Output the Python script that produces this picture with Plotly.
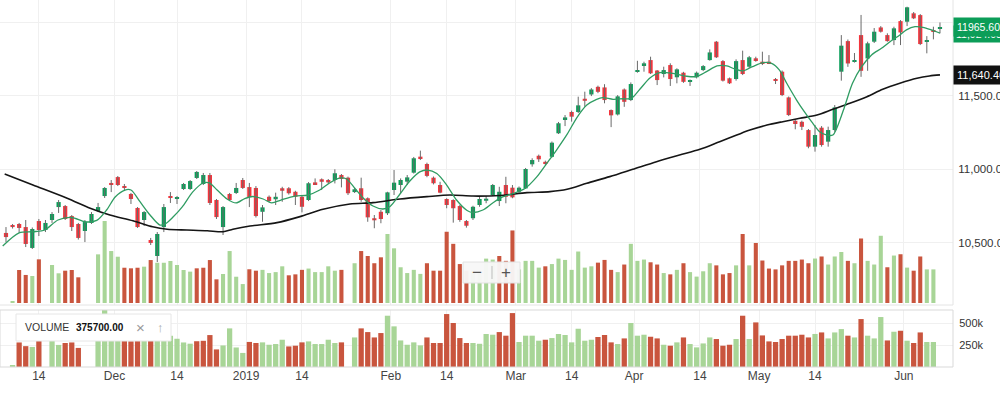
import plotly.graph_objects as go

# ---------------- data ----------------
opens = [10565, 10619, 10626, 10605, 10463, 10646, 10585, 10653, 10741, 10748,
         10680, 10626, 10578, 10633, 10714, 10816, 10905, 10945, 10884, 10830,
         10735, 10653, 10517, 10408, 10605, 10816, 10796, 10864, 10864, 10939,
         10898, 10959, 10789, 10605, 10830, 10837, 10925, 10877, 10871, 10709,
         10811, 10794, 10869, 10869, 10845, 10811, 10789, 10909, 10930, 10925,
         10925, 10959, 10941, 10843, 10869, 10801, 10665, 10709, 10699, 10857,
         10891, 10914, 10975, 11084, 11034, 10941, 10891, 10796, 10789, 10748,
         10646, 10665, 10755, 10784, 10823, 10782, 10891, 10873, 10845, 10868,
         11032, 11090, 11049, 11083, 11243, 11340, 11388, 11388, 11478, 11507,
         11559, 11555, 11401, 11371, 11541, 11469, 11662, 11707, 11741, 11670,
         11646, 11707, 11624, 11655, 11593, 11624, 11673, 11741, 11866, 11734,
         11617, 11612, 11741, 11696, 11753, 11730, 11730, 11612, 11662, 11487,
         11328, 11321, 11265, 11152, 11281, 11186, 11265, 11662, 11870, 11730,
         11911, 11752, 11866, 11963, 11911, 11877, 12006, 12002, 12059, 12047,
         11866, 11945, 11955]
closes = [10537, 10605, 10599, 10490, 10592, 10585, 10633, 10694, 10775, 10660,
          10605, 10531, 10639, 10694, 10741, 10871, 10891, 10891, 10871, 10796,
          10605, 10707, 10497, 10558, 10741, 10803, 10809, 10898, 10918, 10980,
          10959, 10769, 10673, 10741, 10789, 10871, 10871, 10809, 10680, 10739,
          10782, 10811, 10852, 10835, 10811, 10743, 10903, 10896, 10913, 10909,
          10971, 10932, 10835, 10862, 10789, 10671, 10651, 10660, 10841, 10907,
          10925, 10943, 11073, 11071, 10953, 10903, 10839, 10755, 10733, 10653,
          10614, 10743, 10796, 10798, 10891, 10845, 10811, 10807, 10873, 11000,
          11061, 11066, 11034, 11179, 11311, 11351, 11356, 11433, 11464, 11541,
          11525, 11469, 11365, 11494, 11457, 11578, 11673, 11719, 11651, 11605,
          11673, 11612, 11678, 11593, 11605, 11655, 11700, 11793, 11760, 11601,
          11583, 11734, 11646, 11760, 11741, 11719, 11719, 11601, 11503, 11367,
          11306, 11287, 11152, 11231, 11163, 11265, 11419, 11839, 11718, 11741,
          11668, 11855, 11934, 11934, 11870, 11957, 11929, 12100, 12025, 11850,
          11877, 11934, 11965.6]
highs = [10605, 10626, 10633, 10653, 10602, 10660, 10653, 10707, 10789, 10755,
         10687, 10633, 10653, 10707, 10769, 10877, 10925, 10952, 10898, 10837,
         10741, 10714, 10531, 10571, 10762, 10843, 10816, 10905, 10925, 10986,
         10973, 10973, 10796, 10748, 10837, 10905, 10939, 10905, 10884, 10755,
         10820, 10839, 10879, 10877, 10852, 10820, 10911, 10936, 10936, 10932,
         10998, 10966, 10948, 10871, 10941, 10807, 10687, 10721, 10845, 10993,
         10936, 10959, 11082, 11125, 11043, 10949, 10913, 10801, 10794, 10755,
         10653, 10750, 10811, 10816, 10898, 10879, 10947, 10891, 10881, 11007,
         11073, 11098, 11057, 11187, 11320, 11367, 11397, 11492, 11526, 11550,
         11567, 11577, 11405, 11503, 11548, 11589, 11736, 11730, 11764, 11673,
         11696, 11719, 11685, 11661, 11609, 11663, 11707, 11814, 11871, 11741,
         11622, 11746, 11805, 11769, 11764, 11798, 11775, 11619, 11670, 11493,
         11333, 11329, 11272, 11299, 11292, 11288, 11435, 11911, 11881, 11789,
         12048, 11866, 11959, 11972, 11923, 11968, 12013, 12104, 12068, 12054,
         11904, 11968, 11997]
lows = [10503, 10595, 10565, 10469, 10456, 10544, 10571, 10633, 10701, 10653,
        10578, 10520, 10503, 10626, 10707, 10803, 10843, 10884, 10857, 10762,
        10599, 10612, 10483, 10367, 10571, 10769, 10762, 10857, 10857, 10932,
        10891, 10755, 10660, 10551, 10782, 10830, 10864, 10741, 10670, 10641,
        10775, 10755, 10777, 10826, 10755, 10705, 10782, 10891, 10857, 10899,
        10902, 10875, 10823, 10837, 10777, 10641, 10597, 10631, 10687, 10823,
        10834, 10891, 10969, 11061, 10944, 10895, 10835, 10733, 10635, 10641,
        10601, 10653, 10743, 10767, 10816, 10748, 10767, 10801, 10840, 10864,
        11016, 11048, 11027, 11078, 11238, 11292, 11322, 11381, 11423, 11496,
        11516, 11447, 11285, 11364, 11423, 11462, 11655, 11662, 11646, 11571,
        11623, 11565, 11583, 11586, 11565, 11616, 11666, 11737, 11755, 11595,
        11578, 11601, 11639, 11687, 11730, 11707, 11714, 11578, 11496, 11360,
        11270, 11265, 11141, 11118, 11152, 11152, 11253, 11601, 11695, 11724,
        11627, 11668, 11857, 11928, 11866, 11843, 11843, 11972, 12020, 11843,
        11787, 11882, 11923]
volume = [None, 15000, 279000, 237000, 228000, 369000, None, 321000, 251000, 273000,
          279000, 217000, None, None, 411000, 693000, 439000, 391000, 298000, 293000,
          298000, 307000, 363000, 340000, 340000, 355000, 321000, 279000, 265000, 293000,
          298000, 363000, 200000, 245000, 439000, 222000, 160000, 285000, 273000, 280000,
          253000, 261000, 310000, 234000, 242000, 280000, 291000, 261000, 261000, 310000,
          273000, 280000, None, 336000, 439000, 397000, 336000, 386000, 583000, 462000,
          302000, 253000, 280000, 246000, 336000, 273000, 273000, 602000, 500000, 329000,
          273000, 273000, 264000, 375000, 367000, 397000, 356000, 613000, 284000, 356000,
          356000, 299000, 310000, 329000, 375000, 364000, 280000, 435000, 299000, 310000,
          341000, 364000, 280000, 261000, 325000, 500000, 356000, 367000, 344000, 325000,
          253000, 242000, 280000, 336000, 261000, 223000, 268000, 336000, 318000, 242000,
          253000, 318000, 583000, 318000, 507000, 359000, 291000, 284000, 318000, 356000,
          356000, 367000, 336000, 375700, 393000, 325000, 393000, 431000, 356000, 336000,
          545000, 356000, 325000, 568000, 302000, 401000, 412000, 299000, 273000, 393000,
          284000, 284000, None]
# 1 = green (up) volume bar, 0 = red (down) volume bar, None = no bar
vol_up = [None, 1, 0, 0, 1, 0, None, 1, 1, 0,
          0, 0, None, None, 1, 1, 1, 1, 0, 0,
          0, 1, 0, 1, 1, 1, 1, 1, 1, 0,
          0, 0, 0, 1, 1, 1, 1, 0, 0, 1,
          1, 1, 1, 0, 0, 0, 1, 1, 1, 1,
          1, 0, None, 1, 0, 0, 0, 0, 1, 1,
          1, 1, 1, 1, 0, 0, 0, 0, 0, 0,
          0, 1, 1, 1, 1, 0, 0, 0, 1, 1,
          1, 1, 0, 1, 1, 1, 1, 1, 1, 1,
          0, 0, 0, 1, 0, 1, 1, 1, 0, 0,
          1, 0, 1, 0, 1, 1, 1, 1, 0, 0,
          0, 1, 0, 1, 0, 0, 0, 0, 0, 0,
          0, 0, 0, 1, 0, 1, 1, 1, 0, 1,
          0, 1, 1, 1, 0, 1, 0, 1, 0, 0,
          1, 1, None]

# short (green) moving average, sampled along the bar index
ma_short_idx = [-0.5, 2.0, 4.1, 5.9, 7.9, 10.0, 12.0, 13.8, 15.3, 16.6,
                18.1, 19.0, 20.4, 21.9, 23.4, 24.2, 25.4, 26.8, 28.4, 29.9,
                30.9, 32.1, 33.6, 35.0, 36.3, 37.5, 39.1, 40.4, 41.8, 43.9,
                45.9, 47.7, 49.2, 50.8, 51.8, 53.0, 54.3, 55.8, 57.3, 58.4,
                59.9, 61.4, 62.9, 64.1, 65.5, 67.0, 68.5, 70.1, 71.0, 72.5,
                74.0, 75.5, 77.1, 78.9, 80.7, 82.2, 83.7, 85.3, 86.8, 88.3,
                89.8, 90.7, 92.3, 93.8, 95.1, 96.4, 97.9, 99.4, 101.4, 103.5,
                105.0, 106.5, 108.1, 109.6, 110.8, 112.0, 113.5, 115.1, 116.4, 117.6,
                118.7, 120.2, 121.4, 122.5, 123.7, 124.8, 125.7, 126.4, 127.5, 128.7,
                130.1, 131.6, 133.1, 134.4, 135.9, 136.9, 138.2, 139.4, 140.7, 142.0]
ma_short_val = [10476, 10565, 10573, 10585, 10653, 10670, 10641, 10650, 10721, 10810,
                10857, 10857, 10776, 10687, 10619, 10626, 10673, 10742, 10844, 10903,
                10905, 10857, 10796, 10769, 10799, 10813, 10796, 10769, 10789, 10816,
                10823, 10857, 10905, 10939, 10932, 10871, 10803, 10748, 10728, 10745,
                10830, 10918, 10980, 10993, 10969, 10891, 10789, 10718, 10704, 10721,
                10769, 10810, 10833, 10867, 10946, 11037, 11129, 11235, 11350, 11435,
                11474, 11486, 11474, 11478, 11481, 11544, 11619, 11656, 11650, 11631,
                11629, 11662, 11701, 11701, 11680, 11667, 11696, 11723, 11719, 11673,
                11583, 11469, 11388, 11320, 11254, 11231, 11231, 11288, 11424, 11583,
                11696, 11776, 11821, 11866, 11912, 11946, 11968, 11964, 11946, 11924]
# long (black) moving average
ma_long_idx = [-0.2, 4.1, 9.3, 12.8, 15.8, 19.3, 22.3, 24.5, 27.5, 30.6,
               33.0, 34.5, 37.1, 41.2, 44.7, 48.2, 52.3, 55.8, 59.9, 64.0,
               67.5, 71.0, 75.1, 79.2, 82.7, 85.3, 88.3, 91.8, 95.3, 98.9,
               102.4, 105.5, 108.5, 111.1, 113.1, 115.7, 118.1, 120.7, 123.3, 125.7,
               128.3, 130.9, 133.3, 135.9, 138.5, 140.4, 142.0]
ma_long_val = [10966, 10891, 10801, 10733, 10687, 10648, 10607, 10590, 10585, 10580,
               10573, 10590, 10612, 10635, 10676, 10726, 10762, 10771, 10796, 10812,
               10823, 10816, 10820, 10839, 10846, 10862, 10903, 10948, 10998, 11050,
               11095, 11134, 11186, 11231, 11265, 11299, 11322, 11345, 11367, 11406,
               11447, 11492, 11542, 11583, 11617, 11633, 11640.46]

tick_pos = [5, 16.5, 26, 36.5, 45, 58.5, 67, 77.5, 86, 95.5, 105.5, 114.5, 123, 136.5]
tick_text = ["14", "Dec", "14", "2019", "14", "Feb", "14", "Mar", "14", "Apr", "14", "May", "14", "Jun"]
price_ticks = [10500, 11000, 11500, 12000]
vol_ticks = [250000, 500000]
vol_tick_text = ["250k", "500k"]

last_price_text = "11965.60"
ma_short_last_text = "11,924.03"
ma_long_last_text = "11,640.46"
legend_name = "VOLUME"
legend_value = "375700.00"

# ---------------- styling ----------------
UP = "#0a9e59"
DOWN = "#f4343c"
WICK = "#6a6a6a"
VUP = "#a8d597"
VDOWN = "#c9553e"
GRID = "#f0f0f0"
FONT = "Liberation Sans, Arial, sans-serif"

W, H = 1000, 393
ML, MR, MT, MB = 0, 47, 0, 26
PH = H - MT - MB           # plot height in px
PW = W - ML - MR


def py(p):                  # pixel row -> paper y
    return (PH - p) / PH


def px(p):                  # pixel column -> paper x
    return p / PW


n = len(opens)
idx = list(range(n))
candle_col = [UP if c >= o else DOWN for o, c in zip(opens, closes)]
body_base = [min(o, c) for o, c in zip(opens, closes)]
body_h = [max(abs(c - o), 9) for o, c in zip(opens, closes)]
vcol = [(VUP if u else VDOWN) if u is not None else "rgba(0,0,0,0)" for u in vol_up]

wx, wy = [], []
for i, (h, l) in enumerate(zip(highs, lows)):
    wx += [i, i, None]
    wy += [l, h, None]

fig = go.Figure()
# volume overlay inside the price pane (base axis y)
fig.add_trace(go.Bar(x=idx, y=volume, marker=dict(color=vcol, line=dict(width=0)),
                     width=0.62, xaxis="x", yaxis="y", hoverinfo="skip"))
# wicks
fig.add_trace(go.Scatter(x=wx, y=wy, mode="lines", line=dict(color=WICK, width=1),
                         xaxis="x", yaxis="y3", hoverinfo="skip"))
# bodies
fig.add_trace(go.Bar(x=idx, y=body_h, base=body_base,
                     marker=dict(color=candle_col, line=dict(width=0)),
                     width=0.64, xaxis="x", yaxis="y3", hoverinfo="skip"))
# moving averages
fig.add_trace(go.Scatter(x=ma_long_idx, y=ma_long_val, mode="lines",
                         line=dict(color="#151515", width=1.6, shape="spline", smoothing=0.8),
                         xaxis="x", yaxis="y3", hoverinfo="skip"))
fig.add_trace(go.Scatter(x=ma_short_idx, y=ma_short_val, mode="lines",
                         line=dict(color="#2f9c62", width=1.3, shape="spline", smoothing=0.8),
                         xaxis="x", yaxis="y3", hoverinfo="skip"))
# volume pane
fig.add_trace(go.Bar(x=idx, y=volume, marker=dict(color=vcol, line=dict(width=0)),
                     width=0.8, xaxis="x2", yaxis="y2", hoverinfo="skip"))

main_bottom = 305
vol_top = 310
xr = [-0.91, 143.98]

fig.update_layout(
    width=W, height=H,
    margin=dict(l=ML, r=MR, t=MT, b=MB, autoexpand=False),
    paper_bgcolor="white", plot_bgcolor="white",
    showlegend=False, barmode="overlay", hovermode=False,
    font=dict(family=FONT, size=12, color="#333"),
    xaxis=dict(domain=[0, 1], range=xr, anchor="y", tickvals=tick_pos,
               showticklabels=False, showgrid=True, gridcolor=GRID, gridwidth=1,
               zeroline=False, ticks="", automargin=False),
    xaxis2=dict(domain=[0, 1], range=xr, anchor="y2", matches="x", tickvals=tick_pos,
                ticktext=tick_text, showgrid=True, gridcolor=GRID, zeroline=False,
                ticks="", tickfont=dict(size=12, color="#444"), automargin=False),
    yaxis=dict(domain=[py(main_bottom), 1], range=[-16900, 2560000], visible=False,
               showgrid=False, zeroline=False, automargin=False),
    yaxis3=dict(overlaying="y", side="right", anchor="x", range=[10074.8, 12149.7],
                tickvals=price_ticks, tickformat=",.2f", showgrid=True,
                gridcolor=GRID, zeroline=False, ticks="outside", ticklen=2,
                tickcolor="rgba(0,0,0,0)", tickfont=dict(size=11.5, color="#333"),
                automargin=False),
    yaxis2=dict(domain=[0, py(vol_top)], range=[0, 648000], side="right", anchor="x2",
                tickvals=vol_ticks, ticktext=vol_tick_text, showgrid=True,
                gridcolor=GRID, zeroline=False, ticks="outside", ticklen=3,
                tickcolor="rgba(0,0,0,0)", tickfont=dict(size=11, color="#333"),
                automargin=False),
)

shapes = [
    # price pane frame (bottom + right)
    dict(type="line", xref="paper", yref="paper", x0=0, x1=1,
         y0=py(main_bottom), y1=py(main_bottom), line=dict(color="#e4e4e4", width=1)),
    dict(type="line", xref="paper", yref="paper", x0=1, x1=1,
         y0=py(main_bottom), y1=1, line=dict(color="#e4e4e4", width=1)),
    # volume pane frame
    dict(type="rect", xref="paper", yref="paper", x0=0, x1=1, y0=0, y1=py(vol_top),
         line=dict(color="#d9d9d9", width=1)),
    # zoom control
    dict(type="rect", xref="paper", yref="paper", x0=px(463), x1=px(520),
         y0=py(283), y1=py(262), fillcolor="rgba(247,247,247,0.96)",
         line=dict(color="#e2e2e2", width=1), layer="above"),
    dict(type="line", xref="paper", yref="paper", x0=px(492), x1=px(492),
         y0=py(279), y1=py(266), line=dict(color="#bdbdbd", width=1), layer="above"),
    # volume legend box
    dict(type="rect", xref="paper", yref="paper", x0=px(16), x1=px(171),
         y0=py(341), y1=py(314), fillcolor="white",
         line=dict(color="#e6e6e6", width=1), layer="above"),
]
fig.update_layout(shapes=shapes)

ann = [
    dict(text=ma_short_last_text, x=1.0, y=py(34), xanchor="left", yanchor="middle",
         bgcolor="#0c9d58", borderpad=2, font=dict(color="white", size=10.5)),
    dict(text=last_price_text, x=1.0, y=py(27), xanchor="left", yanchor="middle",
         bgcolor="#0c9d58", borderpad=3, font=dict(color="white", size=10.5)),
    dict(text=ma_long_last_text, x=1.0, y=py(75), xanchor="left", yanchor="middle",
         bgcolor="#111111", borderpad=3, font=dict(color="white", size=11)),
    dict(text="−", x=px(477), y=py(272), xanchor="center", yanchor="middle",
         font=dict(size=17, color="#555")),
    dict(text="+", x=px(506), y=py(272), xanchor="center", yanchor="middle",
         font=dict(size=17, color="#555")),
    dict(text=legend_name, x=px(46.5), y=py(327), xanchor="center", yanchor="middle",
         font=dict(size=10.5, color="#333")),
    dict(text="<b>" + legend_value + "</b>", x=px(100), y=py(327), xanchor="center",
         yanchor="middle", font=dict(size=10, color="#111")),
    dict(text="×", x=px(140), y=py(327), xanchor="center", yanchor="middle",
         font=dict(size=15, color="#9a9a9a")),
    dict(text="↑", x=px(160), y=py(327), xanchor="center", yanchor="middle",
         font=dict(size=13, color="#aaaaaa")),
]
for a in ann:
    a.update(xref="paper", yref="paper", showarrow=False)
fig.update_layout(annotations=ann)

fig.write_html("out.html", config={"displayModeBar": False},
               post_script="document.body.style.margin='0';document.body.style.overflow='hidden';")
